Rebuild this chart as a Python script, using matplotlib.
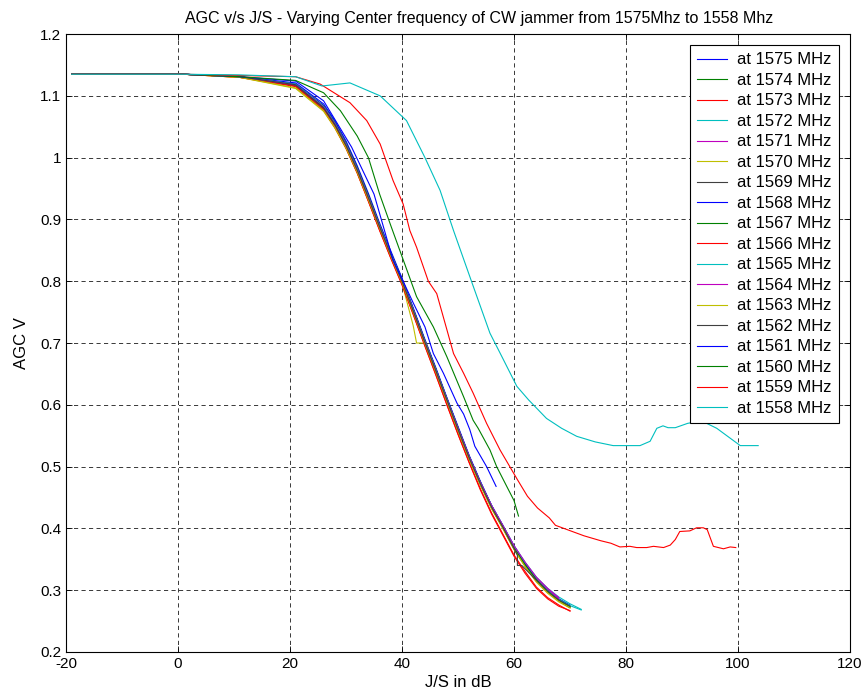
import matplotlib
matplotlib.use("Agg")
import matplotlib.pyplot as plt

# J/S grid shared by the main bundle of curves (dB)
JS_BUNDLE = [-19, 1, 11, 21, 26, 28, 30, 32, 34, 36, 38, 40, 42, 44, 46, 48,
             50, 52, 54, 56, 58, 60, 62, 64, 66, 68, 70, 72]

AGC_1575 = [1.135, 1.135, 1.131, 1.121, 1.087, 1.060, 1.027, 0.987, 0.942, 0.894, 0.849, 0.805, 0.757, 0.708,
            0.661, 0.612, 0.565, 0.518, 0.476, 0.437, 0.404, 0.370, 0.342, 0.318, 0.300, 0.286, 0.276]
AGC_1574 = [1.135, 1.135, 1.131, 1.119, 1.084, 1.057, 1.024, 0.984, 0.939, 0.891, 0.846, 0.803, 0.755, 0.706,
            0.659, 0.610, 0.563, 0.516, 0.474, 0.436, 0.403, 0.369, 0.341, 0.317, 0.299, 0.285, 0.274]
AGC_1573 = [1.135, 1.135, 1.130, 1.116, 1.078, 1.050, 1.016, 0.976, 0.930, 0.883, 0.838, 0.795, 0.747, 0.698,
            0.650, 0.601, 0.553, 0.507, 0.464, 0.425, 0.391, 0.357, 0.330, 0.305, 0.288, 0.276, 0.266]
AGC_1572 = [1.135, 1.135, 1.131, 1.118, 1.082, 1.055, 1.021, 0.981, 0.936, 0.889, 0.844, 0.801, 0.753, 0.704,
            0.657, 0.609, 0.561, 0.515, 0.473, 0.435, 0.403, 0.369, 0.341, 0.317, 0.299, 0.285, 0.275, 0.268]
AGC_1571 = [1.135, 1.135, 1.131, 1.117, 1.081, 1.054, 1.020, 0.980, 0.935, 0.888, 0.843, 0.800, 0.752, 0.703,
            0.656, 0.608, 0.561, 0.515, 0.473, 0.436, 0.404, 0.371, 0.344, 0.320, 0.302, 0.286]
JS_1570 = [-19, 1, 11, 21, 26, 28, 30, 32, 34, 36, 38, 40, 42, 42.6, 44.3, 46, 48,
           50, 52, 54, 56, 58, 60, 62, 64, 66, 68, 70]
AGC_1570 = [1.135, 1.135, 1.130, 1.112, 1.075, 1.048, 1.015, 0.975, 0.930, 0.884, 0.839, 0.797, 0.728, 0.700,
            0.700, 0.654, 0.606, 0.558, 0.512, 0.470, 0.432, 0.400, 0.366, 0.338, 0.313, 0.295, 0.281, 0.271]
AGC_1569 = [1.135, 1.135, 1.131, 1.117, 1.080, 1.053, 1.019, 0.979, 0.934, 0.887, 0.842, 0.799, 0.751, 0.702,
            0.655, 0.607, 0.559, 0.513, 0.471, 0.433, 0.401, 0.367, 0.339, 0.315, 0.297, 0.283, 0.273]
AGC_1568 = [1.135, 1.135, 1.131, 1.119, 1.084, 1.057, 1.023, 0.983, 0.938, 0.890, 0.846, 0.803, 0.755, 0.706,
            0.659, 0.611, 0.563, 0.517, 0.475, 0.437, 0.405, 0.372, 0.343, 0.316]
AGC_1567 = [1.135, 1.135, 1.131, 1.118, 1.083, 1.056, 1.022, 0.982, 0.937, 0.890, 0.845, 0.802, 0.754, 0.705,
            0.658, 0.610, 0.562, 0.516, 0.474, 0.436, 0.403, 0.369, 0.341, 0.317, 0.298, 0.283, 0.272]
AGC_1566 = [1.135, 1.135, 1.130, 1.115, 1.077, 1.049, 1.015, 0.975, 0.929, 0.882, 0.837, 0.794, 0.746, 0.697,
            0.649, 0.600, 0.552, 0.506, 0.462, 0.423, 0.389, 0.355, 0.327, 0.303, 0.286, 0.274, 0.267]
AGC_1565 = [1.135, 1.135, 1.131, 1.119, 1.083, 1.056, 1.022, 0.982, 0.937, 0.890, 0.845, 0.802, 0.754, 0.705,
            0.658, 0.610, 0.562, 0.516, 0.474, 0.437, 0.405, 0.372, 0.345, 0.321, 0.303, 0.289, 0.278, 0.269]
AGC_1564 = [1.135, 1.135, 1.131, 1.118, 1.082, 1.055, 1.021, 0.981, 0.936, 0.889, 0.844, 0.801, 0.753, 0.704,
            0.657, 0.609, 0.562, 0.516, 0.474, 0.437, 0.405, 0.372, 0.345, 0.321, 0.303, 0.288]
AGC_1563 = [1.135, 1.135, 1.130, 1.113, 1.076, 1.049, 1.016, 0.977, 0.932, 0.886, 0.841, 0.798, 0.750, 0.701,
            0.654, 0.606, 0.558, 0.512, 0.470, 0.432, 0.400, 0.366, 0.338, 0.314, 0.296, 0.282, 0.272]
JS_1562 = [-19, 1, 11, 21, 26, 28, 30, 32, 34, 36, 38, 40, 42, 44, 46, 48,
           50, 52, 54, 56, 58, 60.6, 60.6, 61.4, 64, 66, 68, 70]
AGC_1562 = [1.135, 1.135, 1.131, 1.118, 1.081, 1.054, 1.020, 0.980, 0.935, 0.888, 0.843, 0.800, 0.752, 0.703,
            0.656, 0.608, 0.560, 0.514, 0.472, 0.434, 0.402, 0.357, 0.340, 0.340, 0.316, 0.298, 0.284, 0.274]

JS_1561 = [-19, 1, 11, 21, 26, 31, 35, 38.4, 40.2, 42, 44.1, 45.6, 47.4, 49.8, 51, 52.1, 53, 55.1, 56.8]
AGC_1561 = [1.135, 1.135, 1.131, 1.124, 1.092, 1.017, 0.941, 0.834, 0.800, 0.765, 0.726, 0.683, 0.651,
            0.603, 0.585, 0.560, 0.533, 0.500, 0.468]

JS_1560 = [-19, 1, 11, 21, 26, 29, 32, 34, 36, 38, 40, 42.6, 45.6, 48, 51, 52.7, 53.6, 55.7, 56.9,
           58.7, 60, 60.8]
AGC_1560 = [1.135, 1.135, 1.131, 1.125, 1.105, 1.076, 1.035, 1.000, 0.941, 0.890, 0.840, 0.775, 0.726,
            0.678, 0.613, 0.575, 0.562, 0.527, 0.500, 0.468, 0.445, 0.420]

JS_1559 = [-19, 1, 11, 21, 25.4, 30.7, 33.7, 36.1, 38.4, 40.2, 41.4, 42.6, 44.7, 46.2, 48, 49.2, 51,
           52.7, 55.1, 57.5, 60.6, 62.4, 64.2, 66.3, 67.4, 70.1, 72.5, 75.5, 77.3, 78.9, 80.7, 81.9,
           83.7, 84.9, 86.7, 87.9, 88.8, 89.6, 91.4, 92.6, 93.8, 94.5, 95.6, 97.4, 98.6, 99.6]
AGC_1559 = [1.135, 1.135, 1.133, 1.131, 1.119, 1.089, 1.060, 1.022, 0.963, 0.925, 0.882, 0.855, 0.800,
            0.780, 0.722, 0.683, 0.651, 0.619, 0.570, 0.527, 0.479, 0.452, 0.433, 0.417, 0.405, 0.396,
            0.388, 0.380, 0.376, 0.370, 0.371, 0.369, 0.369, 0.371, 0.369, 0.373, 0.382, 0.395, 0.396,
            0.401, 0.401, 0.398, 0.371, 0.367, 0.370, 0.369]

JS_1558 = [-19, 1, 11, 21, 25.7, 30.7, 36.1, 40.8, 44.1, 46.8, 49.2, 52.4, 55.7, 58, 60.5, 62.6, 65.8,
           68.5, 71.2, 74.5, 77.7, 82.5, 84.3, 85.5, 86.6, 87.5, 88.8, 91, 93.5, 96.2, 100.4, 103.6]
AGC_1558 = [1.135, 1.135, 1.134, 1.131, 1.116, 1.121, 1.100, 1.060, 1.000, 0.947, 0.882, 0.800, 0.716,
            0.675, 0.630, 0.608, 0.578, 0.562, 0.549, 0.540, 0.534, 0.534, 0.541, 0.562, 0.566, 0.563,
            0.563, 0.570, 0.574, 0.562, 0.534, 0.534]

FREQS = list(range(1575, 1557, -1))

# old MATLAB colour order
COLOR_ORDER = [(0, 0, 1), (0, 0.5, 0), (1, 0, 0), (0, 0.75, 0.75),
               (0.75, 0, 0.75), (0.75, 0.75, 0), (0.25, 0.25, 0.25)]

series = [
    (JS_BUNDLE, AGC_1575), (JS_BUNDLE, AGC_1574), (JS_BUNDLE, AGC_1573),
    (JS_BUNDLE, AGC_1572), (JS_BUNDLE, AGC_1571), (JS_1570, AGC_1570),
    (JS_BUNDLE, AGC_1569), (JS_BUNDLE, AGC_1568), (JS_BUNDLE, AGC_1567),
    (JS_BUNDLE, AGC_1566), (JS_BUNDLE, AGC_1565), (JS_BUNDLE, AGC_1564),
    (JS_BUNDLE, AGC_1563), (JS_1562, AGC_1562), (JS_1561, AGC_1561),
    (JS_1560, AGC_1560), (JS_1559, AGC_1559), (JS_1558, AGC_1558),
]

plt.rcParams['font.family'] = ['Liberation Sans', 'DejaVu Sans']
plt.rcParams['font.size'] = 11
plt.rcParams['axes.unicode_minus'] = False

fig = plt.figure(figsize=(8.65, 7.0), dpi=100)
ax = fig.add_axes([0.0763, 0.0686, 0.9064, 0.8827])

for i, (f, (x, y)) in enumerate(zip(FREQS, series)):
    ax.plot(x[:len(y)], y, color=COLOR_ORDER[i % 7], lw=0.8,
            label=f"at {f} MHz")

ax.set_xlim(-20, 120)
ax.set_ylim(0.2, 1.2)
ax.set_xticks(range(-20, 121, 20))
ax.set_yticks([0.2, 0.3, 0.4, 0.5, 0.6, 0.7, 0.8, 0.9, 1, 1.1, 1.2])
ax.set_yticklabels(["0.2", "0.3", "0.4", "0.5", "0.6", "0.7", "0.8", "0.9", "1", "1.1", "1.2"])
ax.grid(True, color='black', linestyle=(0, (5, 4)), lw=0.6, alpha=0.9)
ax.set_axisbelow(True)
ax.tick_params(direction='in', top=True, right=True, length=4, width=0.6, labelsize=11)
for s in ax.spines.values():
    s.set_linewidth(0.8)

ax.set_title("AGC v/s J/S - Varying Center frequency of CW jammer from 1575Mhz to 1558 Mhz",
             fontsize=11.5, pad=8, x=0.527)
ax.set_xlabel("J/S in dB", fontsize=12, labelpad=3)
ax.set_ylabel("AGC V", fontsize=12, labelpad=8)

leg = ax.legend(loc='upper right', fontsize=12, frameon=True, fancybox=False,
                edgecolor='black', framealpha=1, labelspacing=0.33,
                handlelength=1.8, handletextpad=0.6, borderpad=0.45,
                borderaxespad=0.65)
leg.get_frame().set_linewidth(0.8)

fig.savefig("out.png", dpi=100)
